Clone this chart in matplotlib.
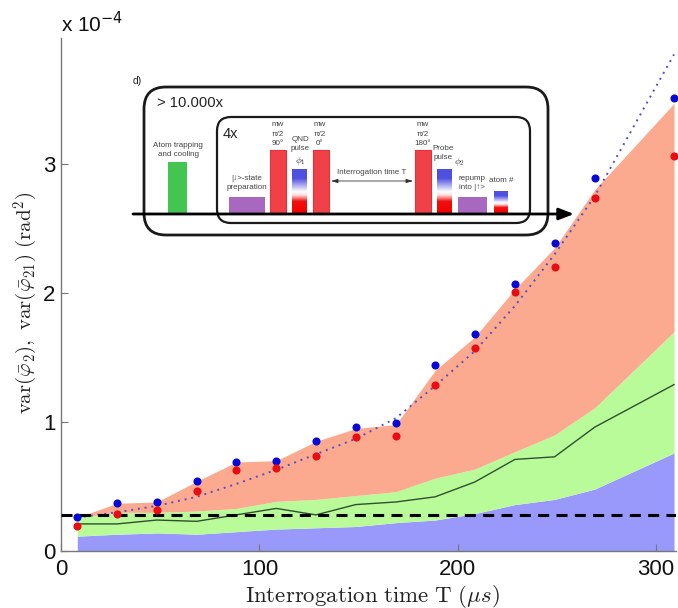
import numpy as np
import matplotlib
matplotlib.use("Agg")
import matplotlib.pyplot as plt
from matplotlib.colors import LinearSegmentedColormap
from matplotlib.patches import FancyBboxPatch, Rectangle

# ============================================================
# Data
# ============================================================
T = [8.2, 28.3, 48.3, 68.4, 88.4, 108.5, 128.5, 148.6, 168.8, 188.6, 208.6, 228.8, 248.8, 269, 309]

blue_pts = [0.265, 0.37, 0.38, 0.54, 0.69, 0.70, 0.85, 0.96, 0.99, 1.44, 1.68, 2.07, 2.39, 2.89, 3.51]
red_pts = [0.19, 0.29, 0.32, 0.465, 0.63, 0.64, 0.74, 0.88, 0.89, 1.29, 1.57, 2.01, 2.20, 2.74, 3.06]

salmon_top = [0.26, 0.37, 0.38, 0.54, 0.69, 0.70, 0.85, 0.95, 0.98, 1.40, 1.66, 2.03, 2.35, 2.80, 3.47]
green_top = [0.26, 0.30, 0.30, 0.31, 0.33, 0.385, 0.40, 0.43, 0.46, 0.565, 0.635, 0.77, 0.90, 1.11, 1.70]
blue_top = [0.115, 0.13, 0.14, 0.13, 0.15, 0.17, 0.18, 0.19, 0.22, 0.24, 0.29, 0.36, 0.40, 0.48, 0.76]
black_line = [0.21, 0.21, 0.24, 0.23, 0.28, 0.33, 0.28, 0.36, 0.38, 0.42, 0.535, 0.71, 0.73, 0.96, 1.29]
dotted_line = [0.26, 0.30, 0.35, 0.42, 0.52, 0.63, 0.75, 0.87, 1.03, 1.28, 1.55, 1.90, 2.30, 2.75, 3.85]
dashed_level = 0.28

xticks = [0, 100, 200, 300]
yticks = [0, 1, 2, 3]

W, H = 678, 608

plt.rcParams["font.family"] = ["Liberation Sans", "DejaVu Sans"]
plt.rcParams["mathtext.fontset"] = "cm"

fig = plt.figure(figsize=(W / 100, H / 100), dpi=100)
ax = fig.add_axes([61 / W, 1 - 551 / H, (676 - 61) / W, (551 - 38) / H])

# ============================================================
# Main plot
# ============================================================
ax.fill_between(T, 0, blue_top, color="#9999fb", lw=0, zorder=1)
ax.fill_between(T, blue_top, green_top, color="#b9fb99", lw=0, zorder=1)
ax.fill_between(T, green_top, salmon_top, color="#fba98f", lw=0, zorder=1)
ax.plot(T, black_line, color="#2f4f2f", lw=1, zorder=2)
ax.plot(T, dotted_line, color="#5050c8", lw=1.4, ls=(0, (1, 2.5)), zorder=2)
ax.axhline(dashed_level, color="black", lw=2.2, ls=(0, (3.6, 2.4)), zorder=3)
ax.scatter(T, blue_pts, s=34, color="#0808d8", lw=0, zorder=4, clip_on=False)
ax.scatter(T, red_pts, s=34, color="#e80c14", lw=0, zorder=4, clip_on=False)

ax.set_xlim(0, 310)
ax.set_ylim(0, 3.977)
ax.set_xticks(xticks)
ax.set_yticks(yticks)
ax.tick_params(direction="in", length=5, width=0.8, color="#777777", labelsize=16, labelcolor="#111111")
ax.tick_params(axis="x", pad=6)
ax.tick_params(axis="y", pad=4)
for side in ["top", "right"]:
    ax.spines[side].set_visible(False)
for side in ["left", "bottom"]:
    ax.spines[side].set_color("#777777")
    ax.spines[side].set_linewidth(1.0)

fig.text(372 / W, 1 - 596 / H, r"$\mathrm{Interrogation\ time\ T\ }(\mu s)$", fontsize=16.5,
         color="#222222", ha="center", va="center")
fig.text(26 / W, 1 - 303 / H, r"$\mathrm{var}(\bar{\varphi}_2),\ \mathrm{var}(\bar{\varphi}_{21})\ (\mathrm{rad}^2)$",
         fontsize=15, color="#222222", rotation=90, ha="center", va="center")
fig.text(61 / W, 1 - 32 / H, r"x 10$^{-4}$", fontsize=15, color="#111111", math_fontfamily="dejavusans")

# ============================================================
# Inset schematic, drawn in pixel coordinates
# ============================================================
sk = fig.add_axes([0, 0, 1, 1], facecolor="none")
sk.set_xlim(0, W)
sk.set_ylim(H, 0)
sk.axis("off")

base = 214
grad = LinearSegmentedColormap.from_list(
    "pulse", [(0, "#f00000"), (0.28, "#f01010"), (0.42, "#ffe0e0"), (0.5, "#ffffff"),
              (0.66, "#a0a0f0"), (0.8, "#5050e0"), (1, "#5050e0")])
ramp = np.linspace(1, 0, 64).reshape(-1, 1)


def box(x0, x1, top, face):
    sk.add_patch(Rectangle((x0, top), x1 - x0, base - top, facecolor=face, edgecolor="none", zorder=2))


def grad_box(x0, x1, top):
    sk.imshow(ramp, cmap=grad, extent=(x0, x1, base, top), aspect="auto", zorder=2)


def red_box(x0, x1, top):
    box(x0, x1, top, "#f04048")
    sk.add_patch(Rectangle((x0, top), x1 - x0, base - top, facecolor="none", edgecolor="#e83038", lw=0.8, zorder=3))


def round_box(x0, x1, y0, y1, r, lw):
    sk.add_patch(FancyBboxPatch((x0 + r, y0 + r), x1 - x0 - 2 * r, y1 - y0 - 2 * r,
                                boxstyle=f"round,pad={r},rounding_size={r}",
                                facecolor="none", edgecolor="#1a1a1a", lw=lw, zorder=4))


box(168, 187, 162, "#44c450")
box(229, 265, 197, "#a868c0")
red_box(270, 286, 150)
grad_box(292, 307, 169)
red_box(313, 329, 150)
red_box(415, 431, 150)
grad_box(437, 452, 169)
box(458, 487, 197, "#a868c0")
grad_box(494, 508, 191)
sk.set_xlim(0, W)
sk.set_ylim(H, 0)

round_box(144, 548, 87, 235, 22, 2.0)
round_box(217, 530, 117, 223, 14, 1.6)
sk.annotate("", xy=(574, base), xytext=(133, base), zorder=5,
            arrowprops=dict(arrowstyle="-|>,head_length=0.9,head_width=0.35", color="black", lw=2, shrinkA=0, shrinkB=0))
sk.annotate("", xy=(413, 181), xytext=(331, 181), zorder=5,
            arrowprops=dict(arrowstyle="<|-|>,head_length=0.4,head_width=0.12", color="#333333", lw=0.6, shrinkA=0, shrinkB=0))

small = dict(fontsize=5.8, color="#444444", ha="center", va="center", linespacing=1.45)
sk.text(178, 150, "Atom trapping\nand cooling", **small)
sk.text(247, 183, "|↓>-state\npreparation", **small)
sk.text(278, 134, "mw\nπ/2\n90°", **small)
sk.text(300, 144, "QND\npulse", **small)
sk.text(300, 161, r"$\phi_1$", fontsize=7, color="#333333", ha="center", va="center")
sk.text(320, 134, "mw\nπ/2\n0°", **small)
sk.text(372, 172, "Interrogation time T", **small)
sk.text(423, 134, "mw\nπ/2\n180°", **small)
sk.text(443, 153, "Probe\npulse", **small)
sk.text(459, 162, r"$\phi_2$", fontsize=7, color="#333333", ha="center", va="center")
sk.text(472, 183, "repump\ninto |↑>", **small)
sk.text(501, 181, "atom #", **small)
sk.text(133, 81, "d)", fontsize=7.5, color="#222222", ha="left", va="center")
sk.text(157, 103, "> 10.000x", fontsize=10.6, color="#222222", ha="left", va="center")
sk.text(223, 134, "4x", fontsize=10.5, color="#222222", ha="left", va="center")

fig.savefig("out.png", dpi=100)
